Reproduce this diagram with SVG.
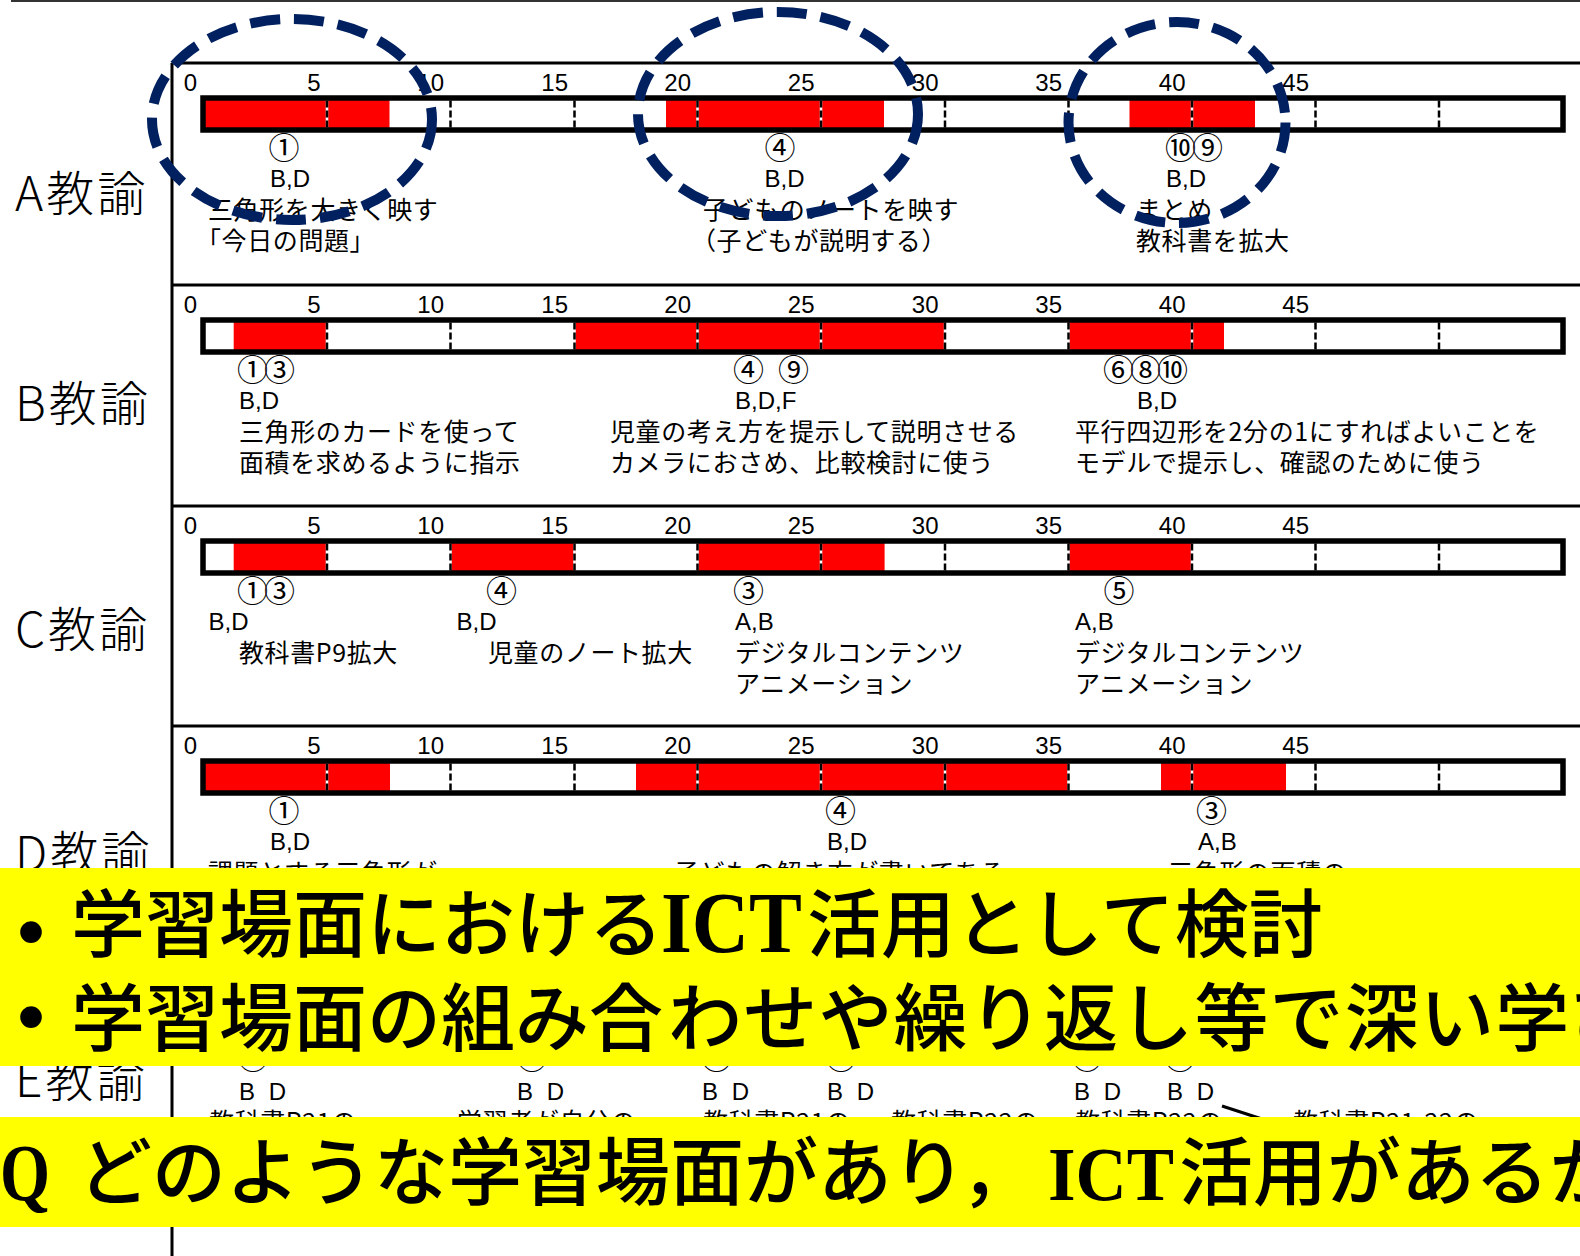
<svg xmlns="http://www.w3.org/2000/svg" xmlns:xlink="http://www.w3.org/1999/xlink" width="1580" height="1256" viewBox="0 0 1580 1256">
<style>
.jp{font-family:"Noto Sans CJK JP","Noto Sans",sans-serif;font-size:25px;letter-spacing:0.6px;fill:#000}
.lat{font-family:"Liberation Sans",Arial,sans-serif;font-size:24px;fill:#000}
.cn{font-family:"Noto Sans CJK JP",sans-serif;font-size:31px;letter-spacing:-4px;fill:#000}
.lbl{font-family:"Noto Sans CJK JP",sans-serif;font-size:48px;font-weight:300;letter-spacing:3px;fill:#000}
.mid{text-anchor:middle}
.red{fill:#FF0000}
.rule{stroke:#000;stroke-width:3;fill:none}
.ring{fill:none;stroke:#002060;stroke-width:10;stroke-dasharray:30 14}
.band{fill:#FFFF00}
.big{font-family:"Noto Sans CJK JP",sans-serif;font-size:74px;font-weight:500;fill:#000}
.ict{font-family:"Liberation Serif","Times New Roman",serif;font-weight:bold;fill:#000}
.bul{font-family:"Liberation Sans",Arial,sans-serif;font-size:80px;fill:#000}
</style>
<defs>
<g id="scale" font-family="Liberation Sans, Arial, sans-serif" font-size="24" text-anchor="end" fill="#000">
<text x="197" y="27.5">0</text>
<text x="320.5" y="27.5">5</text>
<text x="444" y="27.5">10</text>
<text x="568" y="27.5">15</text>
<text x="691" y="27.5">20</text>
<text x="814.5" y="27.5">25</text>
<text x="938.5" y="27.5">30</text>
<text x="1062" y="27.5">35</text>
<text x="1185.5" y="27.5">40</text>
<text x="1309" y="27.5">45</text>
</g>
<g id="ticks" fill="none" stroke-width="2.5">
<path stroke="#fff" d="M327 37.5V64.5M450.5 37.5V64.5M574.5 37.5V64.5M697.5 37.5V64.5M821 37.5V64.5M945 37.5V64.5M1068.5 37.5V64.5M1192 37.5V64.5M1315.5 37.5V64.5M1439 37.5V64.5"/>
<path stroke="#000" stroke-dasharray="7 3" d="M327 37.5V64.5M450.5 37.5V64.5M574.5 37.5V64.5M697.5 37.5V64.5M821 37.5V64.5M945 37.5V64.5M1068.5 37.5V64.5M1192 37.5V64.5M1315.5 37.5V64.5M1439 37.5V64.5"/>
</g>
<rect id="frame" x="203" y="35" width="1360" height="32" fill="none" stroke="#000" stroke-width="5.5"/>
</defs>

<rect x="0" y="0" width="1580" height="1256" fill="#fff"/>

<g id="grid">
<line x1="11" y1="1" x2="1580" y2="1" stroke="#333" stroke-width="2"/>
<line class="rule" x1="172" y1="63" x2="172" y2="1256"/>
<line class="rule" x1="172" y1="63" x2="1580" y2="63"/>
<line class="rule" x1="172" y1="285" x2="1580" y2="285"/>
<line class="rule" x1="172" y1="506" x2="1580" y2="506"/>
<line class="rule" x1="172" y1="726" x2="1580" y2="726"/>
<line class="rule" x1="172" y1="947" x2="1580" y2="947"/>
</g>

<g id="row-a">
<text class="lbl" x="15" y="211">A教諭</text>
<use xlink:href="#scale" y="63"/>
<rect x="203" y="98" width="1360" height="32" fill="#fff"/>
<rect class="red" x="205" y="100" width="184.5" height="28"/>
<rect class="red" x="666" y="100" width="218" height="28"/>
<rect class="red" x="1129.5" y="100" width="125.5" height="28"/>
<use xlink:href="#ticks" y="63"/>
<use xlink:href="#frame" y="63"/>
<text class="cn mid" x="282" y="158.5">①</text>
<text class="cn mid" x="778" y="158.5">④</text>
<text class="cn mid" x="1192" y="158.5">⑩⑨</text>
<text class="lat mid" x="290" y="187">B,D</text>
<text class="lat mid" x="784.5" y="187">B,D</text>
<text class="lat mid" x="1186" y="187">B,D</text>
<text class="jp" x="208" y="218.5">三角形を大きく映す</text>
<text class="jp" x="196" y="249.5">「今日の問題」</text>
<text class="jp" x="703" y="218.5">子どものノートを映す</text>
<text class="jp" x="691" y="249.5">（子どもが説明する）</text>
<text class="jp" x="1136" y="218.5">まとめ</text>
<text class="jp" x="1136" y="249.5">教科書を拡大</text>
</g>

<g id="row-b">
<text class="lbl" x="15" y="421">B教諭</text>
<use xlink:href="#scale" y="285"/>
<rect x="203" y="320" width="1360" height="32" fill="#fff"/>
<rect class="red" x="233.7" y="322" width="93.3" height="28"/>
<rect class="red" x="574.5" y="322" width="371" height="28"/>
<rect class="red" x="1068" y="322" width="156" height="28"/>
<use xlink:href="#ticks" y="285"/>
<use xlink:href="#frame" y="285"/>
<text class="cn" x="237" y="380.5">①③</text>
<text class="cn mid" y="380.5"><tspan x="746.5">④</tspan><tspan x="791.5">⑨</tspan></text>
<text class="cn" x="1103" y="380.5">⑥⑧⑩</text>
<text class="lat" x="239" y="409">B,D</text>
<text class="lat" x="735" y="409">B,D,F</text>
<text class="lat" x="1137" y="409">B,D</text>
<text class="jp" x="239" y="440.5">三角形のカードを使って</text>
<text class="jp" x="239" y="471.5">面積を求めるように指示</text>
<text class="jp" x="610" y="440.5">児童の考え方を提示して説明させる</text>
<text class="jp" x="610" y="471.5">カメラにおさめ、比較検討に使う</text>
<text class="jp" x="1075" y="440.5">平行四辺形を2分の1にすればよいことを</text>
<text class="jp" x="1075" y="471.5">モデルで提示し、確認のために使う</text>
</g>

<g id="row-c">
<text class="lbl" x="15" y="647">C教諭</text>
<use xlink:href="#scale" y="506"/>
<rect x="203" y="541" width="1360" height="32" fill="#fff"/>
<rect class="red" x="233.7" y="543" width="93.3" height="28"/>
<rect class="red" x="450" y="543" width="125.5" height="28"/>
<rect class="red" x="697" y="543" width="187.6" height="28"/>
<rect class="red" x="1068" y="543" width="124" height="28"/>
<use xlink:href="#ticks" y="506"/>
<use xlink:href="#frame" y="506"/>
<text class="cn" x="237" y="601.5">①③</text>
<text class="cn mid" x="499.5" y="601.5">④</text>
<text class="cn mid" x="746.5" y="601.5">③</text>
<text class="cn mid" x="1117" y="601.5">⑤</text>
<text class="lat" x="208.6" y="630">B,D</text>
<text class="lat" x="456.5" y="630">B,D</text>
<text class="lat" x="735" y="630">A,B</text>
<text class="lat" x="1075" y="630">A,B</text>
<text class="jp" x="239" y="661.5">教科書P9拡大</text>
<text class="jp" x="488" y="661.5">児童のノート拡大</text>
<text class="jp" x="735" y="661.5">デジタルコンテンツ</text>
<text class="jp" x="735" y="692.5">アニメーション</text>
<text class="jp" x="1075" y="661.5">デジタルコンテンツ</text>
<text class="jp" x="1075" y="692.5">アニメーション</text>
</g>

<g id="row-d">
<text class="lbl" x="15" y="871">D教諭</text>
<use xlink:href="#scale" y="726"/>
<rect x="203" y="761" width="1360" height="32" fill="#fff"/>
<rect class="red" x="205" y="763" width="185" height="28"/>
<rect class="red" x="636" y="763" width="432.5" height="28"/>
<rect class="red" x="1161" y="763" width="125" height="28"/>
<use xlink:href="#ticks" y="726"/>
<use xlink:href="#frame" y="726"/>
<text class="cn mid" x="282" y="821.5">①</text>
<text class="cn mid" x="838.5" y="821.5">④</text>
<text class="cn mid" x="1209.5" y="821.5">③</text>
<text class="lat" x="270" y="850">B,D</text>
<text class="lat" x="827" y="850">B,D</text>
<text class="lat" x="1198" y="850">A,B</text>
<text class="jp" x="208" y="881.5">課題とする三角形が</text>
<text class="jp" x="674" y="881.5">子どもの解き方が書いてある</text>
<text class="jp" x="1168" y="881.5">三角形の面積の</text>
</g>

<g id="row-e">
<text class="lbl" x="15" y="1097">E教諭</text>
<text class="cn mid" x="251" y="1069">①</text>
<text class="cn mid" x="530" y="1069">④</text>
<text class="cn mid" x="714.5" y="1069">⑤</text>
<text class="cn mid" x="839" y="1069">⑥</text>
<text class="cn mid" x="1085" y="1069">⑦</text>
<text class="cn mid" x="1178" y="1069">⑧</text>
<text class="lat" x="239" y="1100" word-spacing="7">B D</text>
<text class="lat" x="517" y="1100" word-spacing="7">B D</text>
<text class="lat" x="702" y="1100" word-spacing="7">B D</text>
<text class="lat" x="827" y="1100" word-spacing="7">B D</text>
<text class="lat" x="1074" y="1100" word-spacing="7">B D</text>
<text class="lat" x="1167" y="1100" word-spacing="7">B D</text>
<text class="jp" x="209" y="1131">教科書P21の</text>
<text class="jp" x="457" y="1131">学習者が自分の</text>
<text class="jp" x="703" y="1131">教科書P21の</text>
<text class="jp" x="891" y="1131">教科書P22の</text>
<text class="jp" x="1075" y="1131">教科書P22の</text>
<text class="jp" x="1293" y="1131">教科書P21-22の</text>
</g>

<g id="connectors">
<line x1="1222" y1="1106" x2="1262" y2="1119" stroke="#000" stroke-width="3"/>
</g>

<g id="highlights">
<ellipse class="ring" cx="292" cy="119.5" rx="140" ry="100.5"/>
<ellipse class="ring" cx="778" cy="114" rx="140" ry="102"/>
<ellipse class="ring" cx="1177" cy="122.5" rx="108.5" ry="100.5"/>
</g>

<g id="callout-1">
<rect class="band" x="0" y="868" width="1580" height="198"/>
<text class="bul" x="17" y="959">•</text>
<text class="big" x="71" y="951">学習場面における</text>
<text class="ict" x="661" y="952" font-size="86" textLength="141" lengthAdjust="spacingAndGlyphs">ICT</text>
<text class="big" x="807" y="951">活用として検討</text>
<text class="bul" x="17" y="1044">•</text>
<text class="big" x="71" y="1045">学習場面の組み合</text>
<text class="big" x="668" y="1045" font-size="78" letter-spacing="1.2">わせや繰り返し等で深い学び</text>
</g>

<g id="callout-2">
<rect class="band" x="0" y="1117" width="1580" height="110"/>
<text class="ict" x="0" y="1200" font-size="80" textLength="50" lengthAdjust="spacingAndGlyphs">Q</text>
<text class="big" x="78" y="1199">どのような学習場面があり，</text>
<text class="ict" x="1048" y="1200" font-size="76" textLength="126" lengthAdjust="spacingAndGlyphs">ICT</text>
<text class="big" x="1179" y="1199">活用があるか</text>
</g>
</svg>
